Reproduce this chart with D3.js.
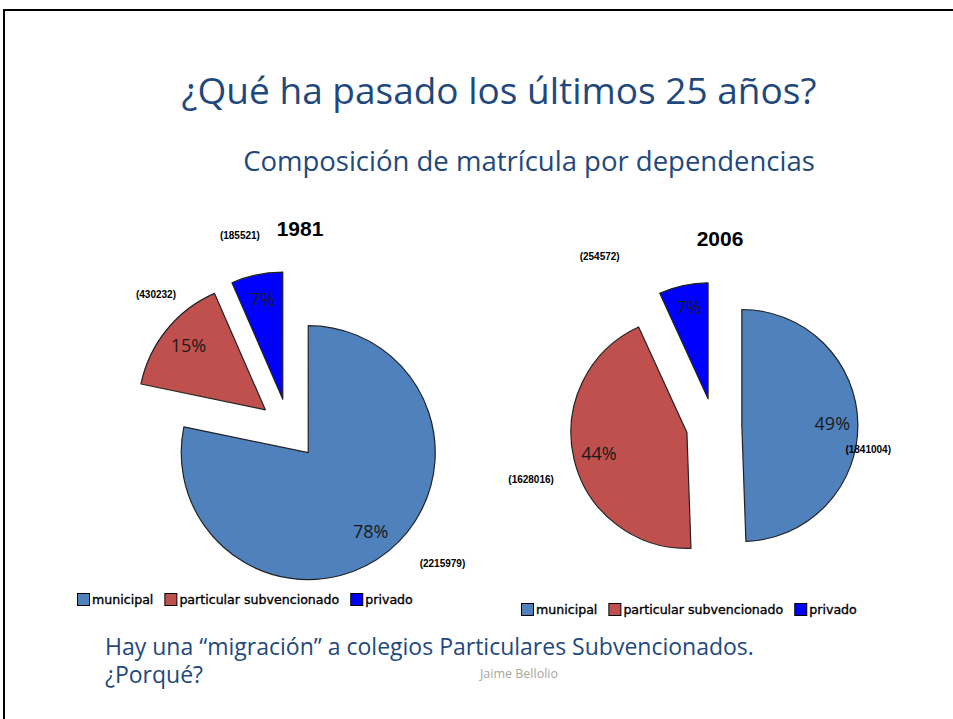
<!DOCTYPE html>
<html>
<head>
<meta charset="utf-8">
<script src="https://cdn.jsdelivr.net/npm/d3@7"></script>
<style>
  body { margin: 0; background: #fff; }
  svg { display: block; }
</style>
</head>
<body>
<div id="chart-area"></div>
<script>
// data
const categories = ['municipal', 'particular subvencionado', 'privado']
const colors = ['#4F81BD', '#C0504D', '#0000FF']
const years = ['1981', '2006']
const values1981 = [2215979, 430232, 185521]
const values2006 = [1841004, 1628016, 254572]
const series = [values1981, values2006]

const W = 953
const H = 719
const textBlue = '#1F497D'

// one entry per pie: centre, radius, legend and label nudges
const layout = [
  { cx: 289, cy: 429, r: 127, titleX: 300, titleY: 236, legendX: 77, legendY: 600,
    nudge: [[42, -2], [4, -23], [-13, -21]] },
  { cx: 714, cy: 426, r: 116, titleX: 720, titleY: 246, legendX: 521, legendY: 610,
    nudge: [[-7, 26], [-26, 16], [-80, -12]] }
]

const svg = d3.select('#chart-area')
              .append('svg')
              .attr('width', W)
              .attr('height', H)

svg.append('rect')
   .attr('width', W)
   .attr('height', H)
   .attr('fill', '#fff')

// slide frame (left and top edges only show)
svg.append('path')
   .attr('d', 'M4,' + H + 'V10H' + W)
   .attr('fill', 'none')
   .attr('stroke', '#000')
   .attr('stroke-width', 2)

const fit = (sel, w) => {
  const len = sel.node().getComputedTextLength()
  if (len > w) sel.attr('textLength', w).attr('lengthAdjust', 'spacingAndGlyphs')
}

// Title
const title = svg.append('text')
                 .attr('x', 499)
                 .attr('y', 104)
                 .attr('text-anchor', 'middle')
                 .attr('font-family', 'Open Sans')
                 .attr('font-size', '37px')
                 .attr('fill', textBlue)
                 .text('¿Qué ha pasado los últimos 25 años?')
fit(title, 642)

const subtitle = svg.append('text')
                    .attr('x', 529)
                    .attr('y', 171)
                    .attr('text-anchor', 'middle')
                    .attr('font-family', 'Open Sans')
                    .attr('font-size', '27.5px')
                    .attr('fill', textBlue)
                    .text('Composición de matrícula por dependencias')
fit(subtitle, 572)

const pie = d3.pie().sort(null).value(d => d)
const pct = d3.format('.0%')

series.forEach((values, i) => {
  const L = layout[i]
  const total = d3.sum(values)
  const arc = d3.arc().innerRadius(0).outerRadius(L.r)
  const explode = L.r * 0.24

  const g = svg.append('g')
               .attr('transform', 'translate(' + L.cx + ', ' + L.cy + ')')

  const slices = pie(values).map((d, j) => {
    const mid = (d.startAngle + d.endAngle) / 2
    d.ox = Math.sin(mid) * explode
    d.oy = -Math.cos(mid) * explode
    d.mid = mid
    d.j = j
    return d
  })

  const slice = g.selectAll('.slice')
                 .data(slices)
                 .enter()
                 .append('g')
                 .attr('class', 'slice')
                 .attr('transform', d => 'translate(' + d.ox + ', ' + d.oy + ')')

  slice.append('path')
       .attr('d', arc)
       .attr('fill', d => colors[d.j])
       .attr('stroke', '#222')
       .attr('stroke-width', 1.2)
       .attr('stroke-linejoin', 'round')

  // percentage labels
  slice.append('text')
       .attr('x', d => Math.sin(d.mid) * L.r * 0.78)
       .attr('y', d => -Math.cos(d.mid) * L.r * 0.8)
       .attr('dy', '0.35em')
       .attr('text-anchor', 'middle')
       .attr('font-family', 'Open Sans')
       .attr('font-size', '18px')
       .attr('fill', '#1a1a1a')
       .text(d => pct(d.value / total))

  // raw value labels
  slice.append('text')
       .attr('x', d => Math.sin(d.mid) * L.r * 1.15 + L.nudge[d.j][0])
       .attr('y', d => -Math.cos(d.mid) * L.r * 1.15 + L.nudge[d.j][1])
       .attr('dy', '0.35em')
       .attr('text-anchor', 'middle')
       .attr('font-family', 'Liberation Sans')
       .attr('font-weight', 'bold')
       .attr('font-size', '10px')
       .attr('fill', '#000')
       .text(d => '(' + d.value + ')')

  // year title
  svg.append('text')
     .attr('x', L.titleX)
     .attr('y', L.titleY)
     .attr('text-anchor', 'middle')
     .attr('font-family', 'Liberation Sans')
     .attr('font-weight', 'bold')
     .attr('font-size', '21px')
     .attr('fill', '#000')
     .text(years[i])

  // legend
  let lx = L.legendX
  categories.forEach((c, j) => {
    svg.append('rect')
       .attr('x', lx + 0.5)
       .attr('y', L.legendY - 6.5)
       .attr('width', 12)
       .attr('height', 12)
       .attr('fill', colors[j])
       .attr('stroke', '#000')
    const t = svg.append('text')
                 .attr('x', lx + 15)
                 .attr('y', L.legendY)
                 .attr('dy', '0.35em')
                 .attr('font-family', 'DejaVu Sans')
                 .attr('font-size', '12.6px')
                 .attr('fill', '#000')
                 .attr('stroke', '#000')
                 .attr('stroke-width', 0.35)
                 .text(c)
    lx += 15 + t.node().getComputedTextLength() + 11
  })
})

// Bottom note
const note = svg.append('text')
                .attr('font-family', 'Open Sans')
                .attr('font-size', '23px')
                .attr('fill', textBlue)
const line1 = note.append('tspan')
                  .attr('x', 105)
                  .attr('y', 655)
                  .text('Hay una “migración” a colegios Particulares Subvencionados.')
fit(line1, 658)
note.append('tspan')
    .attr('x', 105)
    .attr('y', 683)
    .text('¿Porqué?')

svg.append('text')
   .attr('x', 519)
   .attr('y', 678)
   .attr('text-anchor', 'middle')
   .attr('font-family', 'Open Sans')
   .attr('font-size', '12.5px')
   .attr('fill', '#A8A69A')
   .text('Jaime Bellolio')
</script>
</body>
</html>
